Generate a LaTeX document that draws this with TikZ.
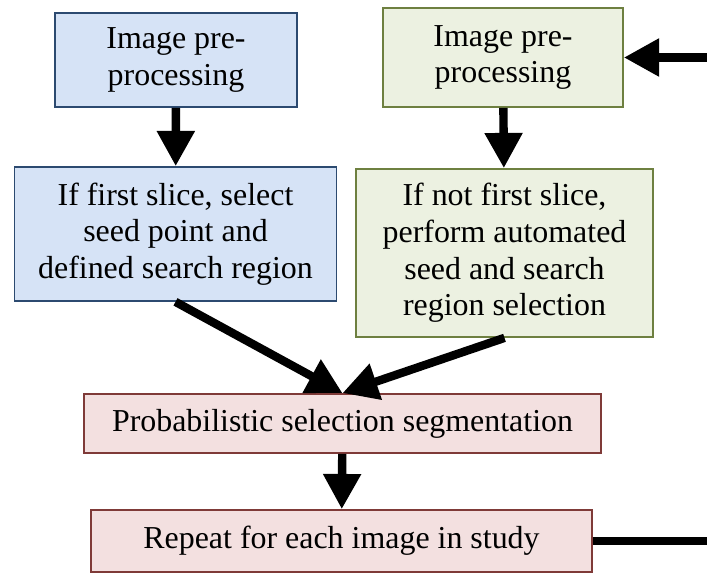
\documentclass[tikz,border=0pt]{standalone}
\usepackage{fontspec}
\setmainfont{Liberation Serif}
\usetikzlibrary{arrows.meta}

\definecolor{bluefill}{RGB}{214,227,246}
\definecolor{blueline}{RGB}{44,74,112}
\definecolor{greenfill}{RGB}{236,241,225}
\definecolor{greenline}{RGB}{110,128,64}
\definecolor{pinkfill}{RGB}{243,224,224}
\definecolor{pinkline}{RGB}{127,58,56}

\begin{document}
\begin{tikzpicture}[x=0.025cm, y=-0.025cm,
        >={Triangle[length=0.88cm,width=0.9cm]},
        every node/.style={align=center, inner sep=0pt, line width=1.2pt,
            font=\fontsize{22.7}{26}\selectfont},
        bluebox/.style={draw=blueline, fill=bluefill},
        greenbox/.style={draw=greenline, fill=greenfill},
        pinkbox/.style={draw=pinkline, fill=pinkfill},
        flow/.style={line width=0.21cm}]
        \useasboundingbox (0,0) rectangle (707,573);

        \node[bluebox, minimum width=6.05cm, minimum height=2.35cm] (prep_a) at (176,60) {Image pre-\\processing};
        \node[greenbox, minimum width=6cm, minimum height=2.48cm] (prep_b) at (503,57.5) {Image pre-\\processing};
        \node[bluebox, minimum width=8.05cm, minimum height=3.35cm] (seed_first) at (175.5,234) {If first slice, select\\seed point and\\defined search region};
        \node[greenbox, minimum width=7.43cm, minimum height=4.2cm] (seed_auto) at (504.5,253) {If not first slice,\\perform automated\\seed and search\\region selection};
        \node[pinkbox, minimum width=12.93cm, minimum height=1.48cm] (prob_seg) at (342.5,423.5) {Probabilistic selection segmentation};
        \node[pinkbox, minimum width=12.53cm, minimum height=1.55cm] (rep_study) at (341.5,541) {Repeat for each image in study};

        \coordinate (loop_in) at (707,57.5);
        \coordinate (loop_out) at (707,541);

        \draw[flow,->] (prep_a) -- (seed_first);
        \draw[flow,->] (prep_b) -- (seed_auto);
        \draw[flow,->] (seed_first.south) -- (prob_seg.north);
        \draw[flow,->] (seed_auto.south) -- (prob_seg.north);
        \draw[flow,->] (prob_seg) -- (rep_study);
        \draw[flow] (rep_study) -- (loop_out);
        \draw[flow,->] (loop_in) -- (prep_b.east);
\end{tikzpicture}
\end{document}
